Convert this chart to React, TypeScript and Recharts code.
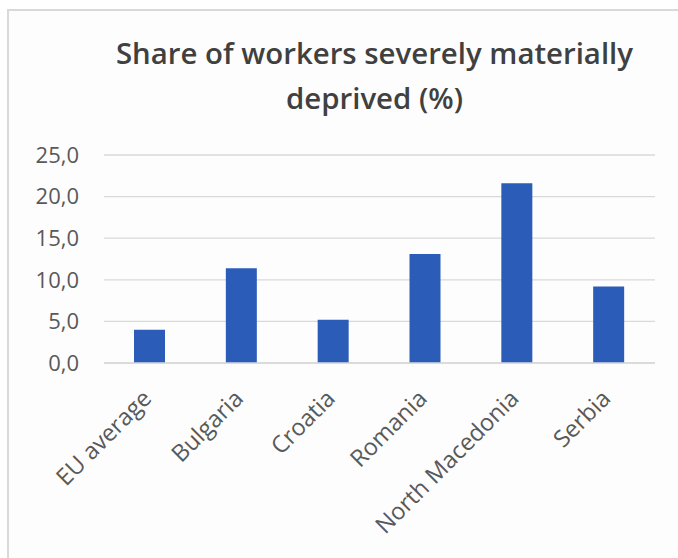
import React from "react";
import { BarChart, Bar, XAxis, YAxis, CartesianGrid } from "recharts";

const categories = ["EU average", "Bulgaria", "Croatia", "Romania", "North Macedonia", "Serbia"];
const shares = [4.0, 11.4, 5.2, 13.1, 21.6, 9.2];
const yTicks = [0, 5, 10, 15, 20, 25];
const titleLines = ["Share of workers severely materially", "deprived (%)"];

const data = categories.map((c, i) => ({ name: c, value: shares[i] }));

const FONT = "'Open Sans', 'Noto Sans', sans-serif";

const XTick = (props: any) => {
  const { x, y, payload } = props;
  const ax = x + 3;
  const ay = y + 29;
  return (
    <text
      x={ax}
      y={ay}
      transform={`rotate(-45, ${ax}, ${ay})`}
      textAnchor="end"
      fontSize={23.5}
      fill="#595959"
      fontFamily={FONT}
    >
      {payload.value}
    </text>
  );
};

export default function App() {
  return (
    <>
      <style>{"html,body{overflow:hidden;margin:0;padding:0;background:#ffffff;}"}</style>
      <div
        style={{
          position: "fixed",
          left: 7,
          top: 9,
          width: 680,
          height: 560,
          borderLeft: "2px solid #d9d9d9",
          borderTop: "2px solid #d9d9d9",
          background: "#fdfdfd",
          overflow: "hidden",
        }}
      >
        <div
          style={{
            position: "absolute",
            left: 0,
            top: 20,
            width: 731,
            textAlign: "center",
            fontFamily: FONT,
            fontWeight: 600,
            fontSize: 29.4,
            lineHeight: "45px",
            color: "#404040",
            whiteSpace: "nowrap",
          }}
        >
          {titleLines.map((t) => (
            <div key={t}>{t}</div>
          ))}
        </div>
        <BarChart
          width={669}
          height={546}
          data={data}
          margin={{ top: 144, right: 23, bottom: 0, left: 0 }}
          barSize={31}
        >
          <CartesianGrid vertical={false} stroke="#d9d9d9" strokeWidth={1.3} />
          <XAxis
            dataKey="name"
            tick={<XTick />}
            tickLine={false}
            axisLine={{ stroke: "#d9d9d9", strokeWidth: 1.3 }}
            height={194}
            interval={0}
          />
          <YAxis
            domain={[0, 25]}
            ticks={yTicks}
            width={95}
            tickLine={false}
            axisLine={false}
            tickSize={0}
            tickMargin={25}
            tickFormatter={(v: number) => v.toFixed(1).replace(".", ",")}
            tick={{ fontSize: 22, fill: "#595959", fontFamily: FONT }}
          />
          <Bar dataKey="value" fill="#2b5cb8" isAnimationActive={false} />
        </BarChart>
      </div>
    </>
  );
}
